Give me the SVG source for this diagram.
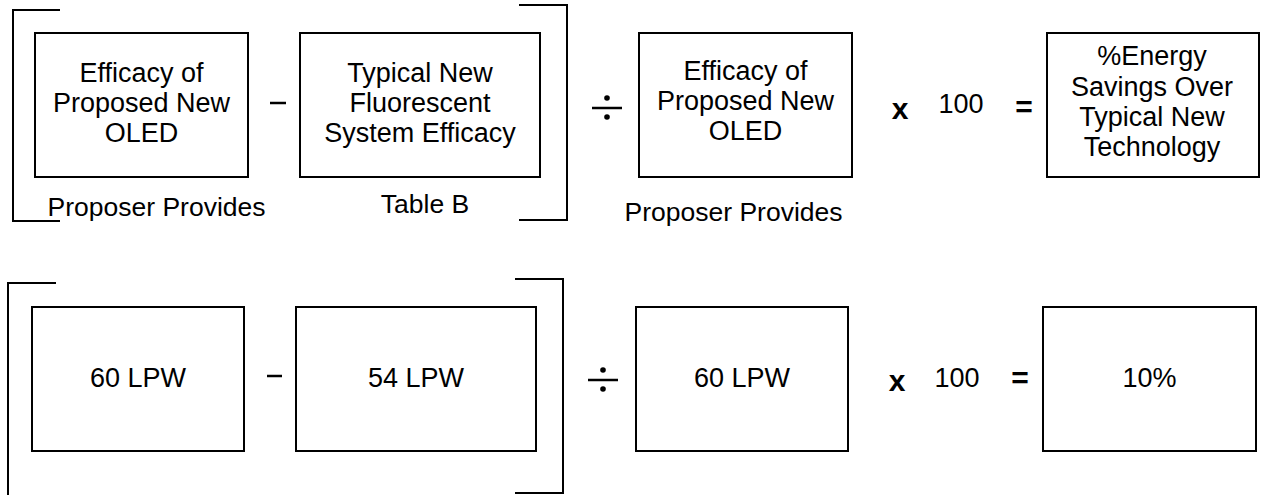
<svg xmlns="http://www.w3.org/2000/svg" width="1262" height="495" viewBox="0 0 1262 495">
<style>
.box{fill:#fff;stroke:#000;stroke-width:2}
.br{fill:none;stroke:#000;stroke-width:2}
.t{font-family:"Liberation Sans",Arial,sans-serif;font-size:27px;fill:#000;text-anchor:middle}
.lb{font-family:"Liberation Sans",Arial,sans-serif;font-size:26.5px;fill:#000;text-anchor:middle}
.op{font-family:"Liberation Sans",Arial,sans-serif;font-size:30px;font-weight:bold;fill:#000;text-anchor:middle}
.line{stroke:#000;stroke-width:2.5}
</style>
<rect width="1262" height="495" fill="#fff"/>
<g id="brackets">
<path class="br" d="M60,10 H13 V221 H60"/>
<path class="br" d="M519,5 H567 V220 H519"/>
<path class="br" d="M56,283 H8 V495"/>
<path class="br" d="M515,279 H563 V493 H515"/>
</g>
<g id="connectors">
<line class="line" x1="270" y1="103" x2="286" y2="103"/>
<line class="line" x1="592" y1="108" x2="622" y2="108"/>
<circle cx="607" cy="98" r="2.8"/>
<circle cx="607" cy="117" r="2.8"/>
<text class="op" x="900" y="119">x</text>
<text class="t" x="961" y="113">100</text>
<text class="op" x="1024" y="117">=</text>
<line class="line" x1="267" y1="376" x2="282" y2="376"/>
<line class="line" x1="588" y1="380" x2="618" y2="380"/>
<circle cx="603" cy="370" r="2.8"/>
<circle cx="603" cy="389" r="2.8"/>
<text class="op" x="897" y="391">x</text>
<text class="t" x="957" y="387">100</text>
<text class="op" x="1020" y="388">=</text>
</g>
<g id="n1">
<rect class="box" x="35" y="33" width="213" height="144"/>
<text class="t" x="141.5" y="82">Efficacy of</text>
<text class="t" x="141.5" y="112">Proposed New</text>
<text class="t" x="141.5" y="142">OLED</text>
</g>
<g id="n2">
<rect class="box" x="300" y="33" width="240" height="144"/>
<text class="t" x="420" y="82">Typical New</text>
<text class="t" x="420" y="112">Fluorescent</text>
<text class="t" x="420" y="142">System Efficacy</text>
</g>
<g id="n3">
<rect class="box" x="639" y="33" width="213" height="144"/>
<text class="t" x="745.5" y="80">Efficacy of</text>
<text class="t" x="745.5" y="110">Proposed New</text>
<text class="t" x="745.5" y="140">OLED</text>
</g>
<g id="n4">
<rect class="box" x="1047" y="33" width="212" height="144"/>
<text class="t" x="1152" y="65">%Energy</text>
<text class="t" x="1152" y="96">Savings Over</text>
<text class="t" x="1152" y="126">Typical New</text>
<text class="t" x="1152" y="156">Technology</text>
</g>
<g id="labels">
<text class="lb" x="156.5" y="216">Proposer Provides</text>
<text class="lb" x="425" y="213">Table B</text>
<text class="lb" x="733.5" y="221">Proposer Provides</text>
</g>
<g id="n5">
<rect class="box" x="32" y="307" width="212" height="144"/>
<text class="t" x="138" y="387">60 LPW</text>
</g>
<g id="n6">
<rect class="box" x="296" y="307" width="240" height="144"/>
<text class="t" x="416" y="387">54 LPW</text>
</g>
<g id="n7">
<rect class="box" x="636" y="307" width="212" height="144"/>
<text class="t" x="742" y="387">60 LPW</text>
</g>
<g id="n8">
<rect class="box" x="1043" y="307" width="213" height="144"/>
<text class="t" x="1149.5" y="387">10%</text>
</g>
</svg>
